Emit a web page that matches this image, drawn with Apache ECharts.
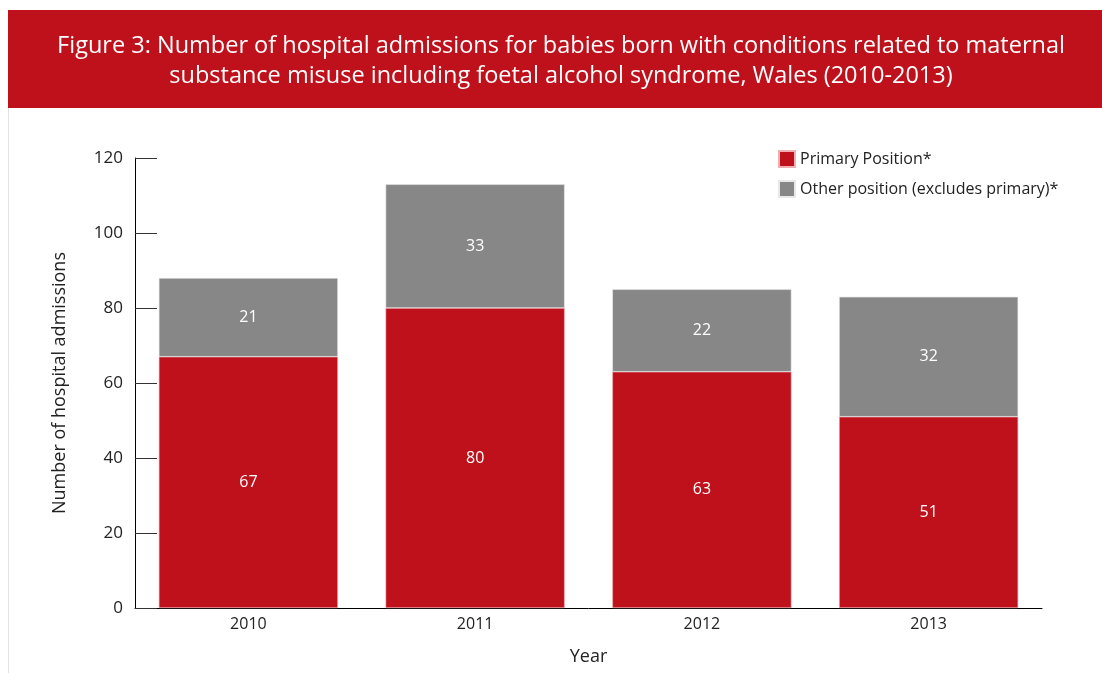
<!DOCTYPE html>
<html>
<head>
<meta charset="utf-8">
<script src="https://cdn.jsdelivr.net/npm/echarts@6/dist/echarts.min.js"></script>
<style>
  html, body { margin: 0; padding: 0; background: #fff; }
  #chart { width: 1102px; height: 673px; }
</style>
</head>
<body>
<div id="chart"></div>
<script>
    // values
    let years = ['2010', '2011', '2012', '2013'];
    let primary = [67, 80, 63, 51];
    let other = [21, 33, 22, 32];
    let yTicks = [0, 20, 40, 60, 80, 100, 120];

    let chart = echarts.init(document.getElementById('chart'));
    let font = '"Open Sans", "Noto Sans", sans-serif';

    let options = {
        animation: false,
        textStyle: {fontFamily: font},
        title: {
            text: 'Figure 3: Number of hospital admissions for babies born with conditions related to maternal\nsubstance misuse including foetal alcohol syndrome, Wales (2010-2013)',
            left: 556,
            top: 26,
            textAlign: 'center',
            textStyle: {
                color: '#fff',
                fontSize: 23.5,
                fontWeight: 'normal',
                lineHeight: 30,
                fontFamily: font
            }
        },
        graphic: [
            {type: 'rect', z: -1, shape: {x: 8, y: 10, width: 1094, height: 98}, style: {fill: '#be111b'}},
            {type: 'line', shape: {x1: 8.5, y1: 108, x2: 8.5, y2: 673}, style: {stroke: '#e2e2e2', lineWidth: 1}}
        ],
        legend: {
            orient: 'vertical',
            left: 773,
            top: 145,
            itemWidth: 16,
            itemHeight: 16,
            itemGap: 12,
            icon: 'rect',
            textStyle: {fontSize: 16, color: '#222'},
            data: ['Primary Position*', 'Other position (excludes primary)*']
        },
        grid: {left: 135, right: 60, top: 158, bottom: 65},
        xAxis: {
            type: 'category',
            data: years,
            name: 'Year',
            nameLocation: 'middle',
            nameGap: 40,
            nameTextStyle: {fontSize: 18, color: '#222'},
            axisLine: {lineStyle: {color: '#000', width: 1}},
            axisTick: {inside: true, length: 10, lineStyle: {color: '#000'}},
            axisLabel: {fontSize: 16, color: '#222', margin: 8}
        },
        yAxis: {
            type: 'value',
            min: yTicks[0],
            max: yTicks[yTicks.length - 1],
            interval: 20,
            name: 'Number of hospital admissions',
            nameLocation: 'middle',
            nameGap: 66,
            nameTextStyle: {fontSize: 18, color: '#222'},
            axisLine: {show: true, lineStyle: {color: '#000', width: 1}},
            axisTick: {show: true, inside: true, length: 22, lineStyle: {color: '#333'}},
            splitLine: {show: false},
            axisLabel: {fontSize: 17, color: '#222', margin: 12, verticalAlign: 'middle', lineHeight: 24, height: 24, padding: [0, 0, 6, 0]}
        },
        series: [
            {
                name: 'Primary Position*',
                type: 'bar',
                stack: 'total',
                barCategoryGap: '21%',
                data: primary,
                itemStyle: {color: '#be111b', borderColor: '#f0b0b3', borderWidth: 0.6},
                label: {show: true, position: 'inside', color: '#fff', fontSize: 16}
            },
            {
                name: 'Other position (excludes primary)*',
                type: 'bar',
                stack: 'total',
                data: other,
                itemStyle: {color: '#878787', borderColor: '#e8e8e8', borderWidth: 0.6},
                label: {show: true, position: 'inside', color: '#fff', fontSize: 16}
            }
        ]
    };
    chart.setOption(options, true);
</script>
</body>
</html>
